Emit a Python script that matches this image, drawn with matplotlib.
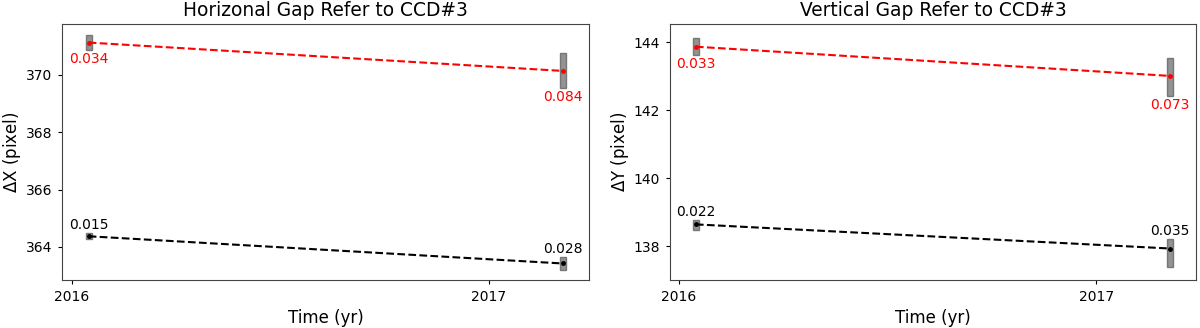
import numpy as np
import matplotlib.pyplot as plt

# epochs (decimal year)
t = np.array([2016.041, 2017.177])

# horizontal gap
dx_red = np.array([371.13, 370.14])
dx_red_lo = np.array([370.87, 369.53])
dx_red_hi = np.array([371.39, 370.78])
dx_red_lab = ['0.034', '0.084']
dx_blk = np.array([364.37, 363.42])
dx_blk_lo = np.array([364.28, 363.21])
dx_blk_hi = np.array([364.47, 363.65])
dx_blk_lab = ['0.015', '0.028']

# vertical gap
dy_red = np.array([143.87, 143.01])
dy_red_lo = np.array([143.63, 142.43])
dy_red_hi = np.array([144.12, 143.54])
dy_red_lab = ['0.033', '0.073']
dy_blk = np.array([138.64, 137.93])
dy_blk_lo = np.array([138.47, 137.39])
dy_blk_hi = np.array([138.76, 138.20])
dy_blk_lab = ['0.022', '0.035']

fig = plt.figure(figsize=(12, 3.28), dpi=100)
ax1 = fig.add_axes([0.052, 0.146, 0.439, 0.781])
ax2 = fig.add_axes([0.558, 0.146, 0.439, 0.781])


def draw_series(ax, y, lo, hi, labs, color, below):
    ax.bar(t, hi - lo, bottom=lo, width=0.014, color='gray', edgecolor='dimgray',
           alpha=0.85, linewidth=1, zorder=2)
    ax.plot(t, y, '--', color=color, marker='o', markersize=2.5, linewidth=1.5, zorder=3)
    for i in range(len(t)):
        if below:
            ax.annotate(labs[i], (t[i], lo[i]), xytext=(0, -1.5), textcoords='offset points',
                        ha='center', va='top', color=color, fontsize=10)
        else:
            ax.annotate(labs[i], (t[i], hi[i]), xytext=(0, 1), textcoords='offset points',
                        ha='center', va='bottom', color=color, fontsize=10)


draw_series(ax1, dx_red, dx_red_lo, dx_red_hi, dx_red_lab, 'red', True)
draw_series(ax1, dx_blk, dx_blk_lo, dx_blk_hi, dx_blk_lab, 'black', False)
draw_series(ax2, dy_red, dy_red_lo, dy_red_hi, dy_red_lab, 'red', True)
draw_series(ax2, dy_blk, dy_blk_lo, dy_blk_hi, dy_blk_lab, 'black', False)

ax1.set_ylim(362.84, 371.78)
ax1.set_yticks([364, 366, 368, 370])
ax1.set_title('Horizonal Gap Refer to CCD#3', fontsize=13.4)
ax1.set_ylabel(r'$\Delta$X (pixel)', fontsize=12, labelpad=2)

ax2.set_ylim(137.0, 144.54)
ax2.set_yticks([138, 140, 142, 144])
ax2.set_title('Vertical Gap Refer to CCD#3', fontsize=13.4)
ax2.set_ylabel(r'$\Delta$Y (pixel)', fontsize=12, labelpad=2)

for ax in (ax1, ax2):
    ax.set_xlim(2015.978, 2017.24)
    ax.set_xticks([2016, 2017])
    ax.set_xticklabels(['2016', '2017'])
    ax.set_xlabel('Time (yr)', fontsize=12)
    ax.tick_params(labelsize=10, length=3, pad=4)
    for s in ax.spines.values():
        s.set_color('#444444')

fig.savefig('out.png', dpi=100)
